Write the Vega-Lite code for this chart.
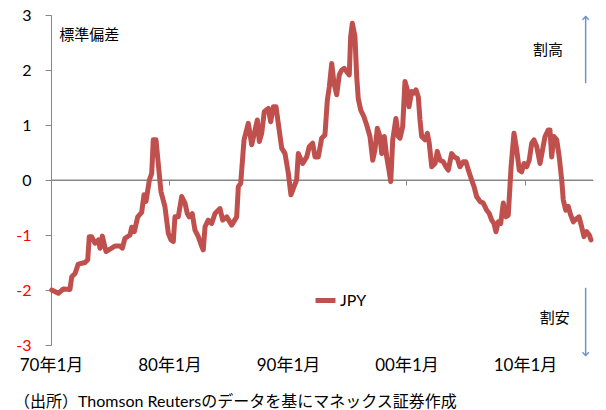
{
  "$schema": "https://vega.github.io/schema/vega-lite/v6.json",
  "width": 542,
  "height": 330,
  "autosize": {"type": "none"},
  "padding": {"left": 51, "top": 15, "right": 13, "bottom": 65},
  "config": {
    "view": {"stroke": null},
    "font": "Lato, 'Noto Sans CJK JP'",
    "axis": {"labelFont": "Lato, 'Noto Sans CJK JP'"},
    "legend": {"labelFont": "Lato, 'Noto Sans CJK JP'"}
  },
  "datasets": {
    "jpy": [
      {"year": 1970.06, "z": -2.00}, {"year": 1970.62, "z": -2.06}, {"year": 1971.04, "z": -1.98}, {"year": 1971.60, "z": -1.99},
      {"year": 1971.75, "z": -1.76}, {"year": 1972.03, "z": -1.70}, {"year": 1972.30, "z": -1.53}, {"year": 1972.87, "z": -1.50},
      {"year": 1973.10, "z": -1.45}, {"year": 1973.23, "z": -1.03}, {"year": 1973.43, "z": -1.03}, {"year": 1973.71, "z": -1.15},
      {"year": 1973.99, "z": -1.09}, {"year": 1974.14, "z": -1.24}, {"year": 1974.33, "z": -1.02}, {"year": 1974.64, "z": -1.30},
      {"year": 1975.12, "z": -1.24}, {"year": 1975.40, "z": -1.20}, {"year": 1975.82, "z": -1.20}, {"year": 1976.02, "z": -1.24},
      {"year": 1976.24, "z": -1.06}, {"year": 1976.67, "z": -1.00}, {"year": 1976.81, "z": -0.86}, {"year": 1977.03, "z": -0.94},
      {"year": 1977.32, "z": -0.67}, {"year": 1977.65, "z": -0.59}, {"year": 1977.85, "z": -0.27}, {"year": 1978.02, "z": -0.39},
      {"year": 1978.30, "z": 0.00}, {"year": 1978.50, "z": 0.12}, {"year": 1978.63, "z": 0.73}, {"year": 1978.86, "z": 0.73},
      {"year": 1979.05, "z": 0.30}, {"year": 1979.28, "z": -0.21}, {"year": 1979.62, "z": -0.49}, {"year": 1979.90, "z": -0.97},
      {"year": 1980.13, "z": -1.09}, {"year": 1980.32, "z": -1.12}, {"year": 1980.46, "z": -0.67}, {"year": 1980.74, "z": -0.67},
      {"year": 1981.03, "z": -0.30}, {"year": 1981.31, "z": -0.42}, {"year": 1981.50, "z": -0.61}, {"year": 1981.67, "z": -0.67},
      {"year": 1981.92, "z": -0.61}, {"year": 1982.15, "z": -0.91}, {"year": 1982.43, "z": -1.03}, {"year": 1982.72, "z": -1.21},
      {"year": 1982.85, "z": -1.27}, {"year": 1983.00, "z": -0.85}, {"year": 1983.27, "z": -0.73}, {"year": 1983.56, "z": -0.79},
      {"year": 1983.84, "z": -0.61}, {"year": 1984.26, "z": -0.52}, {"year": 1984.49, "z": -0.73}, {"year": 1984.83, "z": -0.67},
      {"year": 1985.25, "z": -0.82}, {"year": 1985.67, "z": -0.67}, {"year": 1985.81, "z": -0.12}, {"year": 1986.01, "z": -0.06},
      {"year": 1986.29, "z": 0.73}, {"year": 1986.65, "z": 1.03}, {"year": 1986.94, "z": 0.64}, {"year": 1987.22, "z": 0.91},
      {"year": 1987.41, "z": 1.09}, {"year": 1987.58, "z": 0.70}, {"year": 1987.78, "z": 0.85}, {"year": 1988.00, "z": 1.24},
      {"year": 1988.34, "z": 1.30}, {"year": 1988.54, "z": 1.06}, {"year": 1988.76, "z": 1.33}, {"year": 1988.99, "z": 1.33},
      {"year": 1989.18, "z": 1.03}, {"year": 1989.47, "z": 0.58}, {"year": 1989.75, "z": 0.48}, {"year": 1990.03, "z": 0.12},
      {"year": 1990.25, "z": -0.27}, {"year": 1990.51, "z": -0.12}, {"year": 1990.73, "z": 0.00}, {"year": 1990.87, "z": 0.48},
      {"year": 1991.24, "z": 0.30}, {"year": 1991.58, "z": 0.42}, {"year": 1991.80, "z": 0.61}, {"year": 1992.08, "z": 0.67},
      {"year": 1992.28, "z": 0.42}, {"year": 1992.56, "z": 0.42}, {"year": 1992.84, "z": 0.76}, {"year": 1993.12, "z": 0.82},
      {"year": 1993.32, "z": 1.45}, {"year": 1993.49, "z": 1.70}, {"year": 1993.69, "z": 2.12}, {"year": 1993.88, "z": 1.76},
      {"year": 1994.11, "z": 1.55}, {"year": 1994.33, "z": 1.91}, {"year": 1994.53, "z": 2.00}, {"year": 1994.75, "z": 2.03},
      {"year": 1994.95, "z": 1.97}, {"year": 1995.17, "z": 1.91}, {"year": 1995.29, "z": 2.61}, {"year": 1995.43, "z": 2.85},
      {"year": 1995.65, "z": 2.61}, {"year": 1995.80, "z": 1.88}, {"year": 1995.93, "z": 1.48}, {"year": 1996.14, "z": 1.27},
      {"year": 1996.41, "z": 1.15}, {"year": 1996.64, "z": 1.00}, {"year": 1996.92, "z": 0.79}, {"year": 1997.15, "z": 0.36},
      {"year": 1997.34, "z": 0.55}, {"year": 1997.54, "z": 0.94}, {"year": 1997.76, "z": 0.79}, {"year": 1997.91, "z": 0.48},
      {"year": 1998.13, "z": 0.79}, {"year": 1998.33, "z": 0.42}, {"year": 1998.52, "z": 0.18}, {"year": 1998.67, "z": -0.03},
      {"year": 1998.84, "z": 0.73}, {"year": 1999.11, "z": 1.12}, {"year": 1999.31, "z": 0.79}, {"year": 1999.45, "z": 0.76},
      {"year": 1999.68, "z": 0.97}, {"year": 1999.87, "z": 1.79}, {"year": 2000.07, "z": 1.64}, {"year": 2000.21, "z": 1.33},
      {"year": 2000.44, "z": 1.61}, {"year": 2000.63, "z": 1.58}, {"year": 2000.80, "z": 1.64}, {"year": 2001.00, "z": 1.51},
      {"year": 2001.14, "z": 1.09}, {"year": 2001.28, "z": 0.79}, {"year": 2001.56, "z": 0.73}, {"year": 2001.76, "z": 0.85},
      {"year": 2001.92, "z": 0.67}, {"year": 2002.13, "z": 0.24}, {"year": 2002.41, "z": 0.30}, {"year": 2002.60, "z": 0.52},
      {"year": 2002.83, "z": 0.36}, {"year": 2003.11, "z": 0.33}, {"year": 2003.33, "z": 0.24}, {"year": 2003.53, "z": 0.18},
      {"year": 2003.81, "z": 0.48}, {"year": 2004.03, "z": 0.42}, {"year": 2004.29, "z": 0.39}, {"year": 2004.51, "z": 0.24},
      {"year": 2004.79, "z": 0.33}, {"year": 2005.02, "z": 0.33}, {"year": 2005.22, "z": 0.18}, {"year": 2005.50, "z": 0.00},
      {"year": 2005.70, "z": -0.12}, {"year": 2005.92, "z": -0.30}, {"year": 2006.20, "z": -0.39}, {"year": 2006.48, "z": -0.42},
      {"year": 2006.77, "z": -0.55}, {"year": 2006.99, "z": -0.61}, {"year": 2007.19, "z": -0.73}, {"year": 2007.38, "z": -0.79},
      {"year": 2007.55, "z": -0.94}, {"year": 2007.75, "z": -0.76}, {"year": 2007.95, "z": -0.79}, {"year": 2008.17, "z": -0.42},
      {"year": 2008.40, "z": -0.67}, {"year": 2008.59, "z": -0.64}, {"year": 2008.83, "z": 0.25}, {"year": 2009.07, "z": 0.85},
      {"year": 2009.30, "z": 0.55}, {"year": 2009.52, "z": 0.18}, {"year": 2009.72, "z": 0.15}, {"year": 2009.92, "z": 0.30},
      {"year": 2010.14, "z": 0.24}, {"year": 2010.36, "z": 0.36}, {"year": 2010.57, "z": 0.67}, {"year": 2010.76, "z": 0.73},
      {"year": 2010.99, "z": 0.61}, {"year": 2011.27, "z": 0.30}, {"year": 2011.46, "z": 0.52}, {"year": 2011.69, "z": 0.79},
      {"year": 2011.97, "z": 0.91}, {"year": 2012.11, "z": 0.91}, {"year": 2012.25, "z": 0.42}, {"year": 2012.45, "z": 0.79},
      {"year": 2012.68, "z": 0.73}, {"year": 2012.89, "z": 0.42}, {"year": 2013.10, "z": 0.00}, {"year": 2013.23, "z": -0.36},
      {"year": 2013.44, "z": -0.55}, {"year": 2013.65, "z": -0.48}, {"year": 2013.86, "z": -0.64}, {"year": 2014.08, "z": -0.76},
      {"year": 2014.36, "z": -0.70}, {"year": 2014.56, "z": -0.67}, {"year": 2014.78, "z": -0.85}, {"year": 2014.98, "z": -1.03},
      {"year": 2015.21, "z": -0.94}, {"year": 2015.43, "z": -1.00}, {"year": 2015.57, "z": -1.09}
    ]
  },
  "resolve": {"axis": {"x": "independent", "y": "independent"}},
  "layer": [
    {
      "data": {"values": [{}]},
      "mark": {"type": "rule", "stroke": "#868686", "strokeWidth": 1},
      "encoding": {
        "x": {"datum": 1970, "type": "quantitative",
              "scale": {"domain": [1970, 2015.74], "nice": false, "zero": false},
              "axis": {"orient": "bottom", "offset": -165, "values": [1980, 1990, 2000, 2010], "labels": false, "domain": true,
                       "domainColor": "#868686", "ticks": true, "tickColor": "#868686", "tickSize": 5, "grid": false, "title": null}},
        "x2": {"datum": 2015.74},
        "y": {"datum": 0, "type": "quantitative", "scale": {"domain": [-3, 3], "nice": false, "zero": false}, "axis": null}
      }
    },
    {
      "data": {"name": "jpy"},
      "mark": {"type": "line", "strokeWidth": 5, "strokeJoin": "round", "strokeCap": "round"},
      "encoding": {
        "x": {"field": "year", "type": "quantitative",
              "scale": {"domain": [1970, 2015.74], "nice": false, "zero": false},
              "axis": {"orient": "bottom", "values": [1970, 1980, 1990, 2000, 2010],
                       "labelExpr": "slice(toString(datum.value), 2) + '年1月'",
                       "domain": false, "ticks": false, "grid": false, "title": null,
                       "labelFontSize": 17, "labelPadding": 12, "labelColor": "#000000",
                       "labelFlush": false, "labelOverlap": false}},
        "y": {"field": "z", "type": "quantitative",
              "scale": {"domain": [-3, 3], "nice": false, "zero": false},
              "axis": {"orient": "left", "values": [-3, -2, -1, 0, 1, 2, 3], "title": null, "grid": false,
                       "labelExpr": "toString(datum.value)",
                       "domainColor": "#868686", "tickColor": "#868686", "tickSize": 6,
                       "labelFontSize": 16, "labelPadding": 14,
                       "labelColor": {"expr": "datum.value < 0 ? '#FF0000' : '#000000'"}}},
        "color": {"datum": "JPY", "type": "nominal", "scale": {"range": ["#C0504D"]},
                  "legend": {"orient": "none", "legendX": 262, "legendY": 273, "title": null, "padding": 0,
                             "symbolType": "stroke", "symbolStrokeWidth": 5, "symbolSize": 400,
                             "labelFontSize": 16, "labelColor": "#000000", "labelOffset": 2}}
      }
    },
    {
      "data": {"values": [{}]},
      "mark": {"type": "rule", "stroke": "#6E95CB", "strokeWidth": 1.5},
      "encoding": {
        "x": {"datum": 2015.12, "type": "quantitative", "scale": {"domain": [1970, 2015.74], "nice": false, "zero": false}, "axis": null},
        "y": {"datum": 2.98, "type": "quantitative", "scale": {"domain": [-3, 3], "nice": false, "zero": false}, "axis": null},
        "y2": {"datum": 1.76}
      }
    },
    {
      "data": {"values": [{}]},
      "mark": {"type": "rule", "stroke": "#6E95CB", "strokeWidth": 1.5},
      "encoding": {
        "x": {"datum": 2015.12, "type": "quantitative", "scale": {"domain": [1970, 2015.74], "nice": false, "zero": false}, "axis": null},
        "y": {"datum": -1.96, "type": "quantitative", "scale": {"domain": [-3, 3], "nice": false, "zero": false}, "axis": null},
        "y2": {"datum": -3.2}
      }
    },
    {
      "data": {"values": [{}]},
      "mark": {"type": "point", "shape": "M-1,1L0,0L1,1", "filled": false, "stroke": "#6E95CB", "strokeWidth": 1.5, "size": 40, "opacity": 1},
      "encoding": {
        "x": {"datum": 2015.12, "type": "quantitative", "scale": {"domain": [1970, 2015.74], "nice": false, "zero": false}, "axis": null},
        "y": {"datum": 2.97, "type": "quantitative", "scale": {"domain": [-3, 3], "nice": false, "zero": false}, "axis": null}
      }
    },
    {
      "data": {"values": [{}]},
      "mark": {"type": "point", "shape": "M-1,-1L0,0L1,-1", "filled": false, "stroke": "#6E95CB", "strokeWidth": 1.5, "size": 40, "opacity": 1},
      "encoding": {
        "x": {"datum": 2015.12, "type": "quantitative", "scale": {"domain": [1970, 2015.74], "nice": false, "zero": false}, "axis": null},
        "y": {"datum": -3.19, "type": "quantitative", "scale": {"domain": [-3, 3], "nice": false, "zero": false}, "axis": null}
      }
    },
    {
      "data": {"values": [{}]},
      "mark": {"type": "text", "align": "left", "baseline": "middle", "fontSize": 15, "color": "#000000"},
      "encoding": {
        "x": {"datum": 1970.7, "type": "quantitative", "scale": {"domain": [1970, 2015.74], "nice": false, "zero": false}, "axis": null},
        "y": {"datum": 2.64, "type": "quantitative", "scale": {"domain": [-3, 3], "nice": false, "zero": false}, "axis": null},
        "text": {"value": "標準偏差"}
      }
    },
    {
      "data": {"values": [{}]},
      "mark": {"type": "text", "align": "center", "baseline": "middle", "fontSize": 15, "color": "#000000"},
      "encoding": {
        "x": {"datum": 2011.94, "type": "quantitative", "scale": {"domain": [1970, 2015.74], "nice": false, "zero": false}, "axis": null},
        "y": {"datum": 2.36, "type": "quantitative", "scale": {"domain": [-3, 3], "nice": false, "zero": false}, "axis": null},
        "text": {"value": "割高"}
      }
    },
    {
      "data": {"values": [{}]},
      "mark": {"type": "text", "align": "center", "baseline": "middle", "fontSize": 15, "color": "#000000"},
      "encoding": {
        "x": {"datum": 2012.52, "type": "quantitative", "scale": {"domain": [1970, 2015.74], "nice": false, "zero": false}, "axis": null},
        "y": {"datum": -2.51, "type": "quantitative", "scale": {"domain": [-3, 3], "nice": false, "zero": false}, "axis": null},
        "text": {"value": "割安"}
      }
    },
    {
      "data": {"values": [{}]},
      "mark": {"type": "text", "align": "left", "baseline": "middle", "fontSize": 16, "color": "#000000"},
      "encoding": {
        "x": {"datum": 1966.88, "type": "quantitative", "scale": {"domain": [1970, 2015.74], "nice": false, "zero": false}, "axis": null},
        "y": {"datum": -4.03, "type": "quantitative", "scale": {"domain": [-3, 3], "nice": false, "zero": false}, "axis": null},
        "text": {"value": "（出所）Thomson Reutersのデータを基にマネックス証券作成"}
      }
    }
  ]
}
